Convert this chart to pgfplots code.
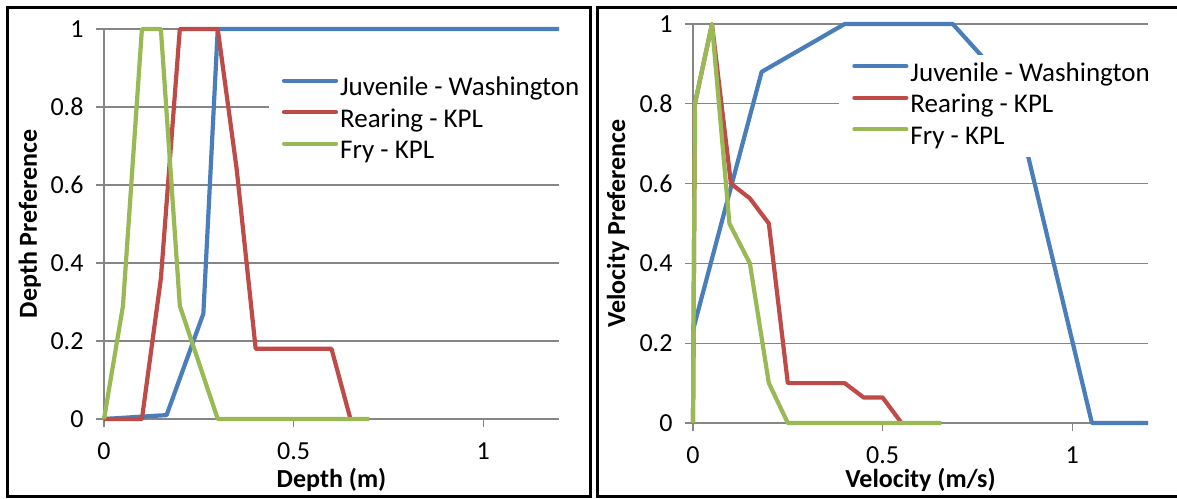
\documentclass[border=0pt]{standalone}
\usepackage{fontspec}
\setmainfont{Carlito}
\usepackage{pgfplots}
\pgfplotsset{compat=1.18}
\definecolor{cblue}{HTML}{4A7EBB}
\definecolor{cred}{HTML}{BE4B48}
\definecolor{cgreen}{HTML}{98B954}
\definecolor{cgrid}{HTML}{868686}
\pgfplotsset{
 panel/.style={
  scale only axis, width=455pt,
  xmin=0,xmax=1.2,ymin=0,ymax=1,
  axis x line*=bottom, axis y line*=left,
  axis line style={cgrid, line width=1.3pt, -},
  xtick={0,0.5,1}, ytick={0,0.2,0.4,0.6,0.8,1},
  ymajorgrids, major grid style={cgrid, line width=1.3pt},
  tick align=outside, major tick length=8pt, tick style={cgrid, line width=1.3pt},
  tick label style={font=\fontsize{26}{31}\selectfont, black},
  /pgf/number format/assume math mode=true,
  xticklabel shift=12pt, yticklabel shift=9pt,
  label style={font=\fontsize{26}{31}\selectfont\bfseries},
  legend style={draw=none, fill=white, font=\fontsize{27}{32}\selectfont, anchor=north west,
    inner xsep=13pt, inner ysep=4pt,
    nodes={inner xsep=2pt, inner ysep=3.25pt, text height=19pt, text depth=6pt}},
  legend cell align=left,
  legend image code/.code={\draw[#1, line cap=round] (0pt,8.5pt) -- (52pt,8.5pt);},
  every axis plot/.append style={line width=4.2pt, line join=round},
  clip=false,
 }
}
\begin{document}
\begin{tikzpicture}
\clip (0,0) rectangle (1177pt,498pt);
\fill[white] (0,0) rectangle (1177pt,498pt);
\begin{axis}[panel, height=390pt, at={(104pt,79pt)}, anchor=south west,
  xlabel={Depth (m)}, ylabel={Depth Preference},
  xlabel style={at={(axis description cs:0.5,-0.156)}, anchor=center},
  ylabel style={at={(axis description cs:-0.163,0.5)}, anchor=center},
  legend style={at={(axis description cs:0.362,0.897)}}]
\addplot[cblue] coordinates {(0,0) (0.165,0.01) (0.262,0.27) (0.3,1) (1.2,1)};
\addplot[cred] coordinates {(0,0) (0.1,0) (0.15,0.36) (0.2,1) (0.3,1) (0.35,0.64) (0.4,0.18) (0.6,0.18) (0.65,0)};
\addplot[cgreen] coordinates {(0,0) (0.05,0.29) (0.1,1) (0.15,1) (0.2,0.29) (0.3,0) (0.7,0)};
\legend{Juvenile - Washington, Rearing - KPL, Fry - KPL}
\end{axis}
\begin{axis}[panel, height=399pt, at={(693pt,75pt)}, anchor=south west,
  xlabel={Velocity (m/s)}, ylabel={Velocity Preference},
  xlabel style={at={(axis description cs:0.5,-0.143)}, anchor=center},
  ylabel style={at={(axis description cs:-0.165,0.5)}, anchor=center},
  legend style={at={(axis description cs:0.321,0.923)}}]
\addplot[cblue] coordinates {(0,0.233) (0.181,0.88) (0.4,1) (0.685,1) (0.842,0.835) (1.052,0) (1.2,0)};
\addplot[cred] coordinates {(0,0) (0.005,0.8) (0.05,1) (0.1,0.6) (0.15,0.563) (0.2,0.5) (0.25,0.1) (0.4,0.1) (0.45,0.064) (0.5,0.064) (0.55,0)};
\addplot[cgreen] coordinates {(0,0) (0.005,0.8) (0.05,1) (0.096,0.5) (0.15,0.4) (0.2,0.1) (0.25,0) (0.655,0)};
\legend{Juvenile - Washington, Rearing - KPL, Fry - KPL}
\end{axis}
\draw[line width=3pt] (7pt,1.5pt) rectangle (590.5pt,490pt);
\draw[line width=3pt] (597pt,1.5pt) rectangle (1190pt,490pt);
\end{tikzpicture}
\end{document}
